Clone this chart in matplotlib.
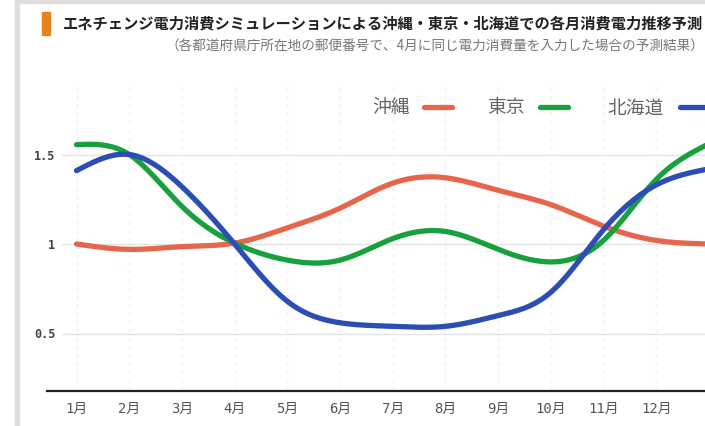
import numpy as np
import matplotlib.pyplot as plt
from matplotlib.patches import Rectangle
from matplotlib.lines import Line2D

plt.rcParams['font.family'] = ['Noto Sans CJK JP', 'DejaVu Sans']

title = 'エネチェンジ電力消費シミュレーションによる沖縄・東京・北海道での各月消費電力推移予測'
subtitle = '（各都道府県庁所在地の郵便番号で、4月に同じ電力消費量を入力した場合の予測結果）'

months = ['1月', '2月', '3月', '4月', '5月', '6月', '7月', '8月', '9月', '10月', '11月', '12月', '']
series_names = ['沖縄', '東京', '北海道']
okinawa = [1.00, 0.97, 0.985, 1.005, 1.09, 1.20, 1.34, 1.37, 1.30, 1.22, 1.10, 1.02, 1.00]
tokyo = [1.555, 1.50, 1.21, 1.005, 0.91, 0.91, 1.03, 1.07, 0.97, 0.90, 1.02, 1.36, 1.56]
hokkaido = [1.41, 1.50, 1.32, 1.00, 0.68, 0.56, 0.54, 0.54, 0.60, 0.73, 1.08, 1.33, 1.42]
colors = ['#e5664d', '#17a03c', '#2c4db3']
yticks = [0.5, 1, 1.5]
ytick_labels = ['0.5', '1', '1.5']


def smooth(y, n=40):
    # natural cubic spline through the monthly values
    y = np.asarray(y, dtype=float)
    k = len(y) - 1
    A = np.eye(k + 1)
    b = np.zeros(k + 1)
    for i in range(1, k):
        A[i, i - 1], A[i, i], A[i, i + 1] = 1, 4, 1
        b[i] = 6 * (y[i + 1] - 2 * y[i] + y[i - 1])
    M = np.linalg.solve(A, b)
    xs, ys = [], []
    for i in range(k):
        t = np.linspace(0, 1, n, endpoint=(i == k - 1))
        s = ((1 - t) ** 3 * M[i] + t ** 3 * M[i + 1]) / 6 \
            + (y[i] - M[i] / 6) * (1 - t) + (y[i + 1] - M[i + 1] / 6) * t
        xs.append(i + 1 + t)
        ys.append(s)
    return np.concatenate(xs), np.concatenate(ys)


fig = plt.figure(figsize=(7.05, 4.26), dpi=100)
W, H = 705, 426

# card frame
fig.patches.append(Rectangle((15 / W, 1 - 3 / H), 1, 3 / H, transform=fig.transFigure,
                             color='#dedede', zorder=0))
fig.patches.append(Rectangle((15 / W, 0), 4 / W, 1, transform=fig.transFigure,
                             color='#dedede', zorder=0))
fig.patches.append(Rectangle((42 / W, 1 - 35 / H), 8 / W, 23 / H, transform=fig.transFigure,
                             color='#e8821e', zorder=1))

fig.text(63 / W, 1 - 24 / H, title, fontsize=11, fontweight='bold', color='#222222',
         va='center', ha='left')
fig.text(704 / W, 1 - 47 / H, subtitle, fontsize=9.8, color='#777777', va='center', ha='right')

# axes: month m sits at pixel 76.5 + (m-1)*52.7
x0, x1 = 47, 720
ax = fig.add_axes([x0 / W, (H - 391) / H, (x1 - x0) / W, (391 - 85) / H])
ax.set_xlim(1 + (x0 - 76.5) / 52.7, 1 + (x1 - 76.5) / 52.7)
ax.set_ylim(1 - 147 / 179, 1 + 159 / 179)

for v in yticks:
    ax.axhline(v, xmin=15 / (x1 - x0), color='#e4e4e4', lw=1, zorder=1)
for m in range(1, len(months) + 1):
    ax.axvline(m, color='#f2f2f2', lw=1, ls=(0, (3, 3)), zorder=1)

for vals, c in zip([okinawa, tokyo, hokkaido], colors):
    xs, ys = smooth(vals)
    ax.plot(xs, ys, color=c, lw=3.8, solid_capstyle='round', zorder=3)

ax.set_yticks(yticks)
ax.set_yticklabels(ytick_labels, family=['DejaVu Sans Mono'], fontsize=8.5,
                   fontweight='bold', color='#444444')
ax.tick_params(axis='y', length=0, pad=-6)
ax.set_xticks(range(1, len(months) + 1))
ax.set_xticklabels(months, family=['DejaVu Sans Mono', 'Noto Sans CJK JP'], fontsize=10,
                   color='#555555')
ax.tick_params(axis='x', length=0, pad=8)

for s in ['top', 'right', 'left']:
    ax.spines[s].set_visible(False)
ax.spines['bottom'].set_color('#222222')
ax.spines['bottom'].set_linewidth(1.6)

# legend (label then line sample)
leg_text_x = [372, 487, 607]
leg_line_x = [(424, 452), (540, 568), (680, 708)]
for name, c, tx, (la, lb) in zip(series_names, colors, leg_text_x, leg_line_x):
    fig.text(tx / W, 1 - 108 / H, name, fontsize=13.5, color='#666666', va='center', ha='left')
    fig.lines.append(Line2D([la / W, lb / W], [1 - 107 / H, 1 - 107 / H], transform=fig.transFigure,
                            color=c, lw=3.8, solid_capstyle='round'))

fig.savefig('out.png', dpi=100)
